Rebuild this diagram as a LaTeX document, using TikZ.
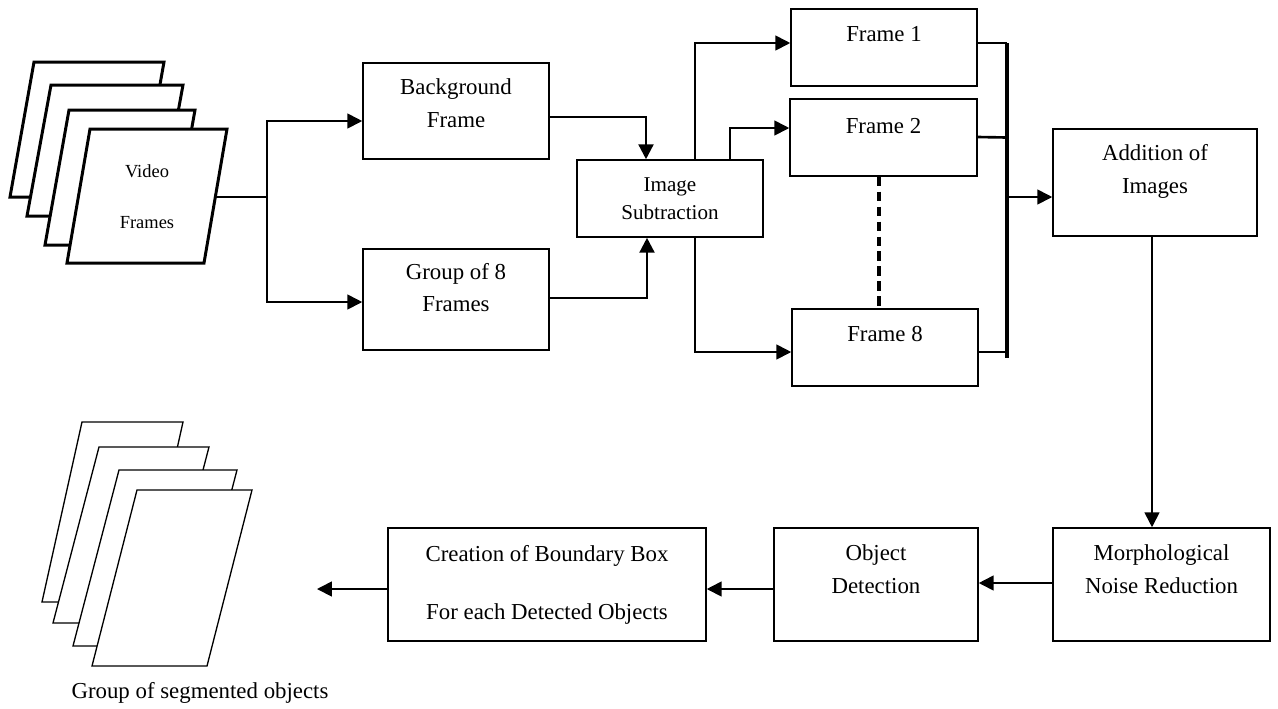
\documentclass[tikz,border=0pt]{standalone}
\usepackage{fontspec}
\setmainfont{Liberation Serif}
\usetikzlibrary{arrows.meta,calc,positioning}
\tikzset{process/.style={draw=black, rectangle, line width=0.9pt, inner sep=0pt}}
\tikzset{box text/.style={align=center, font=\fontsize{13}{18.7}\selectfont}}
\tikzset{flow/.style={line width=1pt}}
\tikzset{flow arrow/.style={flow, -{Triangle[length=8.5pt,width=8.5pt]}}}
\tikzset{sheet/.style={draw=black, fill=white, line join=miter}}

\begin{document}
\begin{tikzpicture}[x=0.02cm, y=-0.02cm]
\useasboundingbox (0,0) rectangle (1278,708);
% stack of video frames
\draw[sheet, line width=1.7pt] (34,62) -- (164,62) -- (140,197) -- (10,197) -- cycle;
\draw[sheet, line width=1.7pt] (51,85) -- (183,85) -- (159,216) -- (27,216) -- cycle;
\draw[sheet, line width=1.7pt] (69,110) -- (195,110) -- (171,245) -- (45,245) -- cycle;
\draw[sheet, line width=1.7pt] (90,129) -- (227,129) -- (204,263) -- (67,263) -- cycle;
\node[align=center, font=\fontsize{10.5}{29}\selectfont] (vf) at (147,197) {Video\\Frames};
\coordinate (vfout) at (215,197);
\coordinate (split) at (267,197);

% process boxes
\node[process, minimum width=3.72cm, minimum height=1.92cm,
  label={[box text, yshift=4.3pt]center:Background\\Frame}] (bg) at (456,111) {};
\node[process, minimum width=3.72cm, minimum height=2.02cm,
  label={[box text, yshift=6.8pt]center:Group of 8\\Frames}] (grp) at (456,299.5) {};
\node[process, minimum width=3.72cm, minimum height=1.54cm, align=center,
  font=\fontsize{12}{15.9}\selectfont] (sub) at (670,198.5) {Image\\Subtraction};
\node[process, minimum width=3.72cm, minimum height=1.54cm,
  label={[box text, yshift=7.6pt]center:Frame 1}] (f1) at (884,47.5) {};
\node[process, minimum width=3.74cm, minimum height=1.54cm,
  label={[box text, yshift=6.5pt]center:Frame 2}] (f2) at (883.5,137.5) {};
\node[process, minimum width=3.72cm, minimum height=1.54cm,
  label={[box text, yshift=7.6pt]center:Frame 8}] (f8) at (885,347.5) {};
\node[process, minimum width=4.08cm, minimum height=2.14cm,
  label={[box text, yshift=6.5pt]center:Addition of\\Images}] (add) at (1155,182.5) {};
\node[process, minimum width=4.34cm, minimum height=2.26cm,
  label={[box text, yshift=8.5pt]center:Morphological\\Noise Reduction}] (mor) at (1161.5,584.5) {};
\node[process, minimum width=4.08cm, minimum height=2.26cm,
  label={[box text, yshift=8.5pt]center:Object\\Detection}] (obj) at (876,584.5) {};
\node[process, minimum width=6.36cm, minimum height=2.26cm, align=center,
  font=\fontsize{13}{33}\selectfont] (cre) at (547,584.5) {Creation of Boundary Box\\For each Detected Objects};

% stack of segmented objects
\draw[sheet, line width=0.75pt] (82,422) -- (183,422) -- (143,602) -- (42,602) -- cycle;
\draw[sheet, line width=0.75pt] (99,447) -- (209,447) -- (163,623) -- (53,623) -- cycle;
\draw[sheet, line width=0.75pt] (119,470) -- (237,470) -- (191,646) -- (73,646) -- cycle;
\draw[sheet, line width=0.75pt] (137,490) -- (252,490) -- (207,666) -- (92,666) -- cycle;
\node[font=\fontsize{13}{15}\selectfont] (segcap) at (200,693) {Group of segmented objects};
\coordinate (segend) at (317,589);

% connectors
\draw[flow] (vfout) -- (split);
\draw[flow arrow] (split) |- ($(bg.west)+(0,10)$);
\draw[flow arrow] (split) |- ($(grp.west)+(0,2.5)$);
\draw[flow arrow, line width=1.4pt] ($(bg.east)+(0,6)$) -| ($(sub.north)+(-24,0)$);
\draw[flow arrow, line width=1.4pt] ($(grp.east)+(0,-1.5)$) -| ($(sub.south)+(-23,0)$);
\draw[flow arrow] ($(sub.north)+(25,0)$) |- ($(f1.west)+(0,-4.5)$);
\draw[flow arrow] ($(sub.north)+(60,0)$) |- ($(f2.west)+(0,-9.5)$);
\draw[flow arrow] ($(sub.south)+(25,0)$) |- ($(f8.west)+(0,4.5)$);
\draw[line width=1.8pt, dash pattern=on 5.5pt off 3pt] ($(f2.south)+(-4.5,0)$) -- ($(f8.north)+(-6,0)$);

% bus into the adder
\coordinate (bustop) at (1007,43);
\coordinate (busbot) at (1007,358);
\coordinate (busout) at (1007,197);
\draw[flow] ($(f1.east)+(0,-4.5)$) -- (bustop);
\draw[flow, line width=1.5pt] ($(f2.east)+(0,-0.5)$) -- (bustop |- f2.east);
\draw[flow] ($(f8.east)+(0,4.5)$) -- (busbot |- 0,352);
\draw[line width=2pt] (bustop) -- (busbot);
\draw[flow arrow] (busout) -- (busout -| add.west);

\coordinate (addout) at ($(add.south)+(-3,0)$);
\draw[flow arrow] (addout) -- (addout |- mor.north);
\draw[flow arrow] ($(mor.west)+(0,-1.5)$) -- ($(obj.east)+(0,-1.5)$);
\draw[flow arrow] ($(obj.west)+(0,4.5)$) -- ($(cre.east)+(0,4.5)$);
\draw[flow arrow] ($(cre.west)+(0,4.5)$) -- (segend);
\end{tikzpicture}
\end{document}
